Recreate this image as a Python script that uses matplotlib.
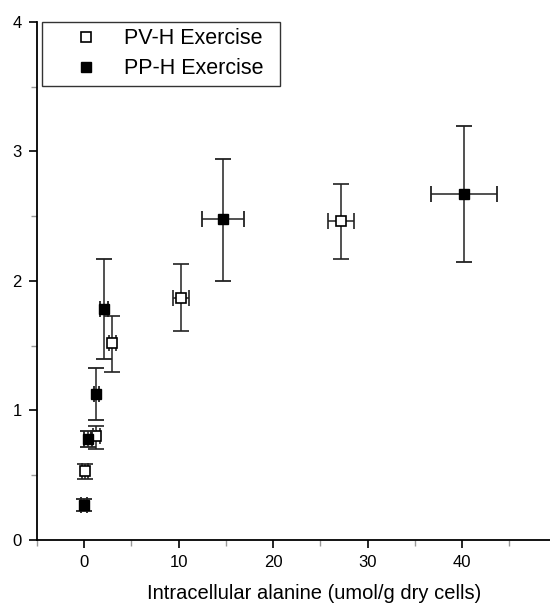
import numpy as np
import matplotlib
matplotlib.use("Agg")
import matplotlib.pyplot as plt
from matplotlib.ticker import MultipleLocator

plt.rcParams['font.family'] = ['Liberation Sans', 'DejaVu Sans']

# PV-H Exercise (open squares)
pv_x = [0.1, 1.3, 3.0, 10.3, 27.2]
pv_y = [0.53, 0.80, 1.52, 1.87, 2.46]
pv_xerr = [0.3, 0.4, 0.4, 0.85, 1.4]
pv_ylo = [0.06, 0.10, 0.22, 0.26, 0.29]
pv_yhi = [0.06, 0.08, 0.21, 0.26, 0.29]

# PP-H Exercise (filled squares)
pp_x = [0.0, 0.4, 1.3, 2.1, 14.7, 40.2]
pp_y = [0.27, 0.78, 1.13, 1.78, 2.48, 2.67]
pp_xerr = [0.3, 0.4, 0.3, 0.4, 2.25, 3.5]
pp_ylo = [0.05, 0.06, 0.20, 0.38, 0.48, 0.52]
pp_yhi = [0.05, 0.06, 0.20, 0.39, 0.46, 0.53]

fig = plt.figure(figsize=(5.5, 6.06), dpi=100)
ax = fig.add_axes([0.067, 0.109, 0.933, 0.8547])

ax.errorbar(pv_x, pv_y, xerr=pv_xerr, yerr=[pv_ylo, pv_yhi], fmt='s',
            mfc='white', mec='black', mew=1.2, ms=7, ecolor='#222222',
            elinewidth=1.1, capsize=6, capthick=1.3, label='PV-H Exercise', zorder=3)
ax.errorbar(pp_x, pp_y, xerr=pp_xerr, yerr=[pp_ylo, pp_yhi], fmt='s',
            mfc='black', mec='black', ms=7, ecolor='#222222',
            elinewidth=1.1, capsize=6, capthick=1.3, label='PP-H Exercise', zorder=4)

ax.set_xlim(-5, 49.3)
ax.set_ylim(0, 4)
ax.xaxis.set_major_locator(MultipleLocator(10))
ax.xaxis.set_minor_locator(MultipleLocator(5))
ax.yaxis.set_major_locator(MultipleLocator(1))
ax.yaxis.set_minor_locator(MultipleLocator(0.5))
ax.set_xticks([0, 10, 20, 30, 40])
ax.tick_params(which='major', direction='out', length=6, width=1.2, labelsize=12, pad=5)
ax.tick_params(which='minor', direction='out', length=4, width=1.0, color='#999999')

ax.spines['top'].set_visible(False)
ax.spines['right'].set_visible(False)
ax.spines['left'].set_linewidth(1.3)
ax.spines['bottom'].set_linewidth(1.3)

ax.set_xlabel('Intracellular alanine (umol/g dry cells)', fontsize=14.5)
ax.xaxis.set_label_coords(0.54, -0.085)

handles, labels = ax.get_legend_handles_labels()
handles = [h[0] for h in handles]
leg = ax.legend(handles, labels, loc='upper left', fontsize=15.5, frameon=True,
                fancybox=False, edgecolor='black', borderaxespad=0.0,
                bbox_to_anchor=(0.0097, 0.0, 0.464, 1.0), mode='expand',
                handletextpad=0.0, borderpad=0.3, labelspacing=0.42,
                handlelength=3.5)
leg.get_frame().set_linewidth(1.0)

fig.savefig('out.png', dpi=100)
